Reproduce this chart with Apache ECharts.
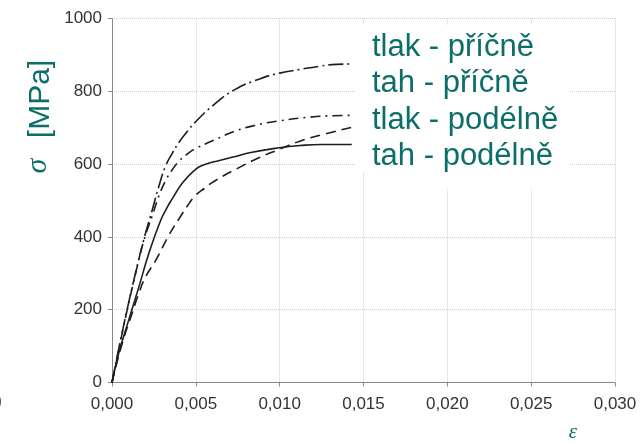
<!DOCTYPE html>
<html>
<head>
<meta charset="utf-8">
<script src="https://cdn.jsdelivr.net/npm/echarts@6/dist/echarts.min.js"></script>
<style>
  html, body { margin: 0; padding: 0; background: #fff; }
  #chart { width: 641px; height: 444px; }
</style>
</head>
<body>
<div id="chart"></div>
<script>
const TEAL = "#0b6e69";
const INK = "#1e1e1e";

// strain / stress pairs
const tlakPricne = [
  [0, 0], [0.0004, 92], [0.0009, 200], [0.0014, 300], [0.0019, 393], [0.0024, 474],
  [0.0028, 540], [0.0032, 595], [0.0036, 630], [0.004, 660], [0.0045, 690], [0.005, 717],
  [0.0061, 764], [0.0073, 804], [0.0088, 834], [0.010, 850], [0.0112, 860], [0.0124, 869],
  [0.0134, 874], [0.0143, 875],
];
const tahPricne = [
  [0, 0], [0.0004, 90], [0.0009, 198], [0.0014, 298], [0.0019, 390], [0.0024, 458],
  [0.0028, 513], [0.0032, 555], [0.0036, 585], [0.004, 608], [0.0045, 628], [0.005, 643],
  [0.0061, 666], [0.0073, 690], [0.0085, 706], [0.010, 719], [0.0118, 729], [0.0132, 733], [0.0143, 734],
];
const tlakPodelne = [
  [0, 0], [0.0006, 106], [0.0012, 190], [0.0016, 245], [0.002, 290], [0.0026, 335],
  [0.0034, 405], [0.004, 450], [0.0046, 492], [0.005, 515], [0.0055, 533], [0.0061, 553],
  [0.0076, 591], [0.0088, 618], [0.010, 641], [0.0112, 663], [0.0124, 679], [0.0143, 701],
];
const tahPodelne = [
  [0, 0], [0.0004, 80], [0.001, 172], [0.0016, 262], [0.0022, 355], [0.0029, 445],
  [0.0033, 482], [0.0036, 505], [0.0042, 548], [0.005, 586], [0.0055, 598], [0.0064, 610],
  [0.0073, 620], [0.0082, 631], [0.010, 645], [0.0112, 651], [0.0125, 654], [0.0143, 654],
];

const legendNames = ["tlak - příčně", "tah - příčně", "tlak - podélně", "tah - podélně"];

const tickFont = { fontFamily: "'Liberation Sans', Arial, sans-serif", fontSize: 17, color: "#333" };

function curve(name, data, dash) {
  return {
    name,
    type: "line",
    data,
    smooth: 0.5,
    showSymbol: false,
    lineStyle: { color: INK, width: 1.6, type: dash },
  };
}

const chart = echarts.init(document.getElementById("chart"), null, { renderer: "canvas" });

chart.setOption({
  animation: false,
  backgroundColor: "#fff",
  grid: { left: 112, right: 26, top: 18.5, bottom: 61.5 },
  xAxis: {
    type: "value",
    min: 0,
    max: 0.03,
    interval: 0.005,
    axisLine: { lineStyle: { color: "#888" } },
    axisTick: { show: true, length: 4, lineStyle: { color: "#888" } },
    axisLabel: { ...tickFont, margin: 13, formatter: v => v.toFixed(3).replace(".", ",") },
    splitLine: { show: true, lineStyle: { color: "#cfcfcf", type: "dotted" } },
  },
  yAxis: {
    type: "value",
    min: 0,
    max: 1000,
    interval: 200,
    axisLine: { show: true, lineStyle: { color: "#888" } },
    axisTick: { show: true, length: 4, lineStyle: { color: "#888" } },
    axisLabel: { ...tickFont, margin: 10, formatter: v => String(v) },
    splitLine: { show: true, lineStyle: { color: "#cfcfcf", type: "dotted" } },
  },
  series: [
    curve(legendNames[0], tlakPricne, [15, 4, 2, 4]),
    curve(legendNames[1], tahPricne, [10, 5, 2, 5]),
    curve(legendNames[2], tlakPodelne, [10, 6]),
    curve(legendNames[3], tahPodelne, "solid"),
  ],
  graphic: [
    { type: "rect", shape: { x: 356, y: 25, width: 214, height: 147 }, style: { fill: "#fff" }, z: 10 },
    { type: "rect", shape: { x: 372, y: 170, width: 198, height: 19 }, style: { fill: "#fff" }, z: 10 },
    ...legendNames.map((t, i) => ({
      type: "text",
      x: 372,
      y: 47 + i * 36.5,
      z: 11,
      style: { text: t, font: "31px 'Liberation Sans', Arial, sans-serif", fill: TEAL, verticalAlign: "middle" },
    })),
    {
      type: "text", x: 41, y: 99, rotation: Math.PI / 2, z: 11,
      style: { text: "[MPa]", font: "30px 'Liberation Sans', Arial, sans-serif", fill: TEAL, align: "center", verticalAlign: "middle" },
    },
    {
      type: "text", x: 38, y: 166, rotation: Math.PI / 2, z: 11,
      style: { text: "σ", font: "italic 30px 'Liberation Serif', serif", fill: TEAL, align: "center", verticalAlign: "middle" },
    },
    {
      type: "text", x: 573, y: 432, z: 11,
      style: { text: "ε", font: "italic 21px 'Liberation Serif', serif", fill: TEAL, align: "center", verticalAlign: "middle" },
    },
    {
      type: "text", x: -4, y: 401, z: 11,
      style: { text: ")", font: "18px 'Liberation Sans', sans-serif", fill: "#333", verticalAlign: "middle" },
    },
  ],
});
</script>
</body>
</html>
